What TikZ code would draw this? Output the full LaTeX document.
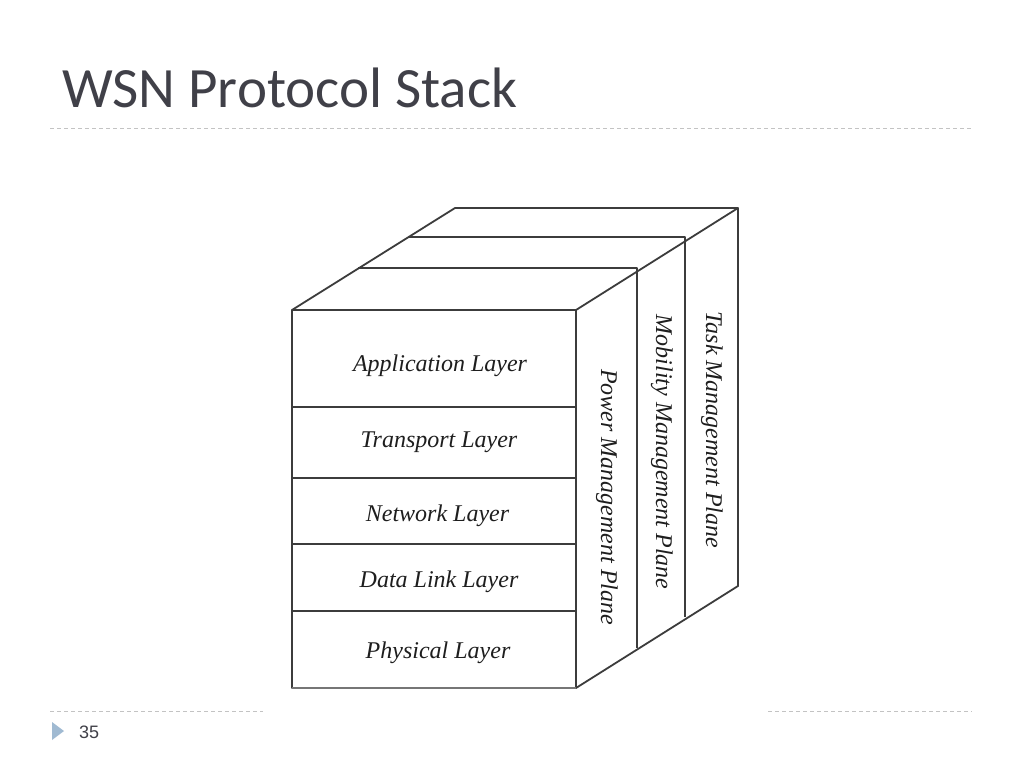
\documentclass[tikz,border=0pt]{standalone}
\usepackage{fontspec}
\setmainfont{Liberation Serif}
\newfontfamily\titlefont{Carlito}
\newfontfamily\numfont{Liberation Sans}
\definecolor{cubeline}{RGB}{60,60,60}
\definecolor{textc}{RGB}{30,30,30}
\definecolor{titlec}{RGB}{64,64,72}
\definecolor{rulec}{RGB}{195,195,195}
\definecolor{bulletc}{RGB}{160,186,210}
\begin{document}
\begin{tikzpicture}[x=1pt,y=-1pt,
  cube/.style={draw=cubeline, line width=1.8pt, line join=round},
  layer/.style={font=\fontsize{24}{28}\selectfont\itshape, text=textc, anchor=base, inner sep=0pt},
  plane/.style={layer, rotate=-90},
  rulestyle/.style={draw=rulec, line width=0.8pt, dash pattern=on 4pt off 3pt}]
\useasboundingbox[fill=white] (0,0) rectangle (1024,768);

% title
\node[anchor=base west, inner sep=0pt, text=titlec, font=\titlefont\fontsize{57}{62}\selectfont] (title) at (62,107) {WSN Protocol Stack};
\coordinate (r1a) at (50,128); \coordinate (r1b) at (972,128);
\draw[rulestyle] (r1a) -- (r1b);

% footer
\coordinate (r2a) at (50,711); \coordinate (r2b) at (263,711);
\coordinate (r3a) at (768,711); \coordinate (r3b) at (972,711);
\draw[rulestyle] (r2a) -- (r2b);
\draw[rulestyle] (r3a) -- (r3b);
\fill[bulletc] (52,722) -- (64,731) -- (52,740) -- cycle;
\node[anchor=base west, inner sep=0pt, text=titlec, font=\numfont\fontsize{18}{20}\selectfont] (pnum) at (79,738) {35};

% cube coordinates
\coordinate (FTL) at (292,310);
\coordinate (FTR) at (576,310);
\coordinate (FBL) at (292,688);
\coordinate (FBR) at (576,688);
\coordinate (BTL) at (455,208);
\coordinate (BTR) at (738,208);
\coordinate (BBR) at (738,586);
\coordinate (M1L) at (358,268);
\coordinate (M1R) at (637,268);
\coordinate (M1B) at (637,648);
\coordinate (M2L) at (408,237);
\coordinate (M2R) at (685,237);
\coordinate (M2B) at (685,617);
\coordinate (D1L) at (292,407); \coordinate (D1R) at (576,407);
\coordinate (D2L) at (292,478); \coordinate (D2R) at (576,478);
\coordinate (D3L) at (292,544); \coordinate (D3R) at (576,544);
\coordinate (D4L) at (292,611); \coordinate (D4R) at (576,611);

% cube
\draw[cube] (FTL) rectangle (FBR);
\draw[cube] (FTL) -- (BTL) -- (BTR) -- (FTR);
\draw[cube] (BTR) -- (BBR) -- (FBR);
\draw[cube] (M1L) -- (M1R) -- (M1B);
\draw[cube] (M2L) -- (M2R) -- (M2B);
\draw[cube] (D1L) -- (D1R);
\draw[cube] (D2L) -- (D2R);
\draw[cube] (D3L) -- (D3R);
\draw[cube] (D4L) -- (D4R);
\draw[draw=cubeline!70, line width=2.8pt] (FBL) -- (FBR);

% layer labels
\node[layer] (app) at (440,371) {Application Layer};
\node[layer] (trans) at (439,447) {Transport Layer};
\node[layer] (net) at (437.5,521) {Network Layer};
\node[layer] (dll) at (439,587) {Data Link Layer};
\node[layer] (phy) at (438,658) {Physical Layer};

% plane labels
\node[plane] (power) at (601,497) {Power Management Plane};
\node[plane] (mob) at (656,452) {Mobility Management Plane};
\node[plane] (task) at (706,430) {Task Management Plane};
\end{tikzpicture}
\end{document}
